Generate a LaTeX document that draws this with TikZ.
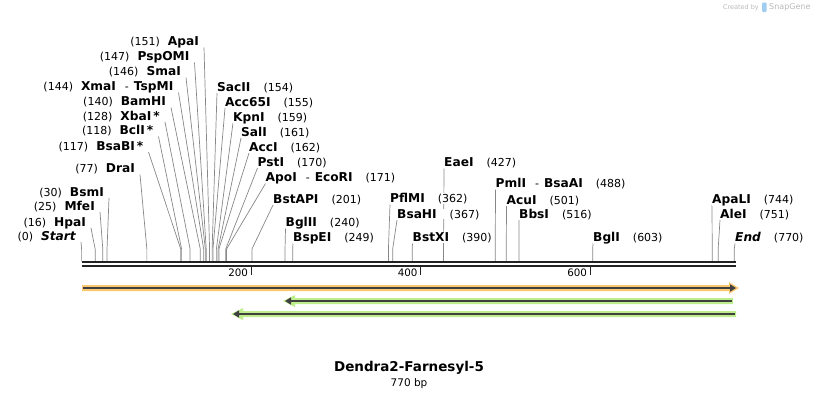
\documentclass[tikz,border=0pt]{standalone}
\usepackage{fontspec}
\setmainfont{DejaVu Sans}
\usetikzlibrary{arrows.meta}
\pgfdeclarelayer{background}
\pgfsetlayers{background,main}
\definecolor{sitegray}{RGB}{135,135,135}
\definecolor{mapdark}{RGB}{34,34,34}
\definecolor{featorange}{RGB}{250,200,112}
\definecolor{featgreen}{RGB}{190,238,140}
\definecolor{featline}{RGB}{64,64,64}
\definecolor{creditgray}{RGB}{185,185,185}
\definecolor{snapblue}{RGB}{160,205,240}
\newcommand{\numfont}{\fontsize{11}{12}\selectfont}
\newcommand{\enzfont}{\fontsize{12.2}{13}\selectfont\bfseries}
\newcommand{\andsep}{\hspace{9pt}{\mdseries\numfont-}\hspace{5pt}}
\tikzset{
  cutlabel/.style={inner sep=0pt, fill=white},
  leftcut/.style={cutlabel, anchor=base east},
  rightcut/.style={cutlabel, anchor=base west},
  siteline/.style={draw=sitegray, line width=0.7pt},
  backbone/.style={draw=mapdark, line width=2.3pt},
  ruler/.style={draw=mapdark, line width=1.2pt},
  featarrow/.style={draw=featline, line width=2pt, -{Triangle[length=6pt,width=7pt]}}
}

\begin{document}
\begin{tikzpicture}[x=1pt,y=-1pt]
  \useasboundingbox (0,0) rectangle (818,400);
  % backbone
  \coordinate (mapstart) at (81.6,262);
  \coordinate (mapend) at (735.5,262);
  \draw[backbone] (mapstart) -- (mapend);
  \draw[backbone] ([yshift=-4.2pt]mapstart) -- ([yshift=-4.2pt]mapend);
  \foreach \t in {200,400,600}{
    \coordinate (tick\t) at ({81.6+0.8476*\t},267);
    \draw[ruler] (tick\t) -- ++(0,8);
    \node[font=\fontsize{10.3}{11}\selectfont, anchor=east, inner sep=0pt] (ticklabel\t) at ([xshift=-3pt,yshift=-6pt]tick\t) {\t};
  }
  % sites, labels on the left
  \foreach \p/\xr/\yb/\name [count=\i] in {0/76/240/{\itshape Start}, 16/86/226/HpaI, 25/95/210/MfeI, 30/104/196/BsmI, 77/135/172.5/DraI, 117/143.5/150/{BsaBI\,*}, 118/153.5/134.5/{BclI\,*}, 128/160/120/{XbaI\,*}, 140/166/105.5/BamHI, 144/173.5/90.5/{XmaI\andsep TspMI}, 146/181/75.5/SmaI, 147/189.5/60.5/PspOMI, 151/199/45.5/ApaI}{
    \coordinate (lsite\i) at ({81.6+0.8476*\p},261);
    \node[leftcut] (lcut\i) at (\xr,\yb) {{\numfont(\p)}\hspace{8pt}{\enzfont\name}};
    \begin{pgfonlayer}{background}
      \draw[siteline] (lsite\i) -- ++(0,-12) -- ([xshift=5pt,yshift=-2pt]lcut\i.base east);
    \end{pgfonlayer}
  }
  % sites, labels on the right
  \foreach \p/\xl/\yb/\name [count=\i] in {154/217/91/SacII, 155/225/106/Acc65I, 159/233/121/KpnI, 161/241/136/SalI, 162/249/151/AccI, 170/257.5/166/PstI, 171/265.5/181.5/{ApoI\andsep EcoRI}, 201/273/203/BstAPI, 240/285.5/226.5/BglII, 249/293/241.5/BspEI, 362/390/202.5/PflMI, 367/397/218/BsaHI, 390/412.5/241.5/BstXI, 427/444/166.5/EaeI, 488/495.5/187.5/{PmlI\andsep BsaAI}, 501/506.5/204/AcuI, 516/519/218/BbsI, 603/593/241.5/BglI, 744/712/203/ApaLI, 751/720/218/AleI, 770/735/241.5/{\itshape End}}{
    \coordinate (rsite\i) at ({81.6+0.8476*\p},261);
    \node[rightcut] (rcut\i) at (\xl,\yb) {{\enzfont\name}\hspace{13pt}{\numfont(\p)}};
    \begin{pgfonlayer}{background}
      \draw[siteline] (rsite\i) -- ++(0,-12) -- ([yshift=-2pt]rcut\i.base west);
    \end{pgfonlayer}
  }
  % features
  \fill[featorange] (82,285) -- (729,285) -- (729,282) -- (739,288) -- (729,294) -- (729,291) -- (82,291) -- cycle;
  \draw[featarrow] (83,288) -- (736,288);
  \fill[featgreen] (733,298) -- (295,298) -- (295,295) -- (283,301) -- (295,307) -- (295,304) -- (733,304) -- cycle;
  \draw[featarrow] (732,301) -- (285,301);
  \fill[featgreen] (736,311) -- (243,311) -- (243,308) -- (231,314) -- (243,320) -- (243,317) -- (736,317) -- cycle;
  \draw[featarrow] (735,314) -- (233,314);
  % title
  \node[font=\fontsize{13.5}{15}\selectfont\bfseries] (title) at (409,368) {Dendra2-Farnesyl-5};
  \node[font=\fontsize{10.5}{12}\selectfont] (length) at (409,384) {770 bp};
  % credit
  \node[font=\fontsize{6.5}{7}\selectfont, text=creditgray, anchor=east, inner sep=0pt] (credit) at (759,7.5) {Created by};
  \fill[snapblue, rounded corners=1pt] (762,2.5) rectangle (766.5,12);
  \node[font=\fontsize{8}{9}\selectfont, text=creditgray, anchor=west, inner sep=0pt] (snapgene) at (769,7.5) {SnapGene};
\end{tikzpicture}
\end{document}
